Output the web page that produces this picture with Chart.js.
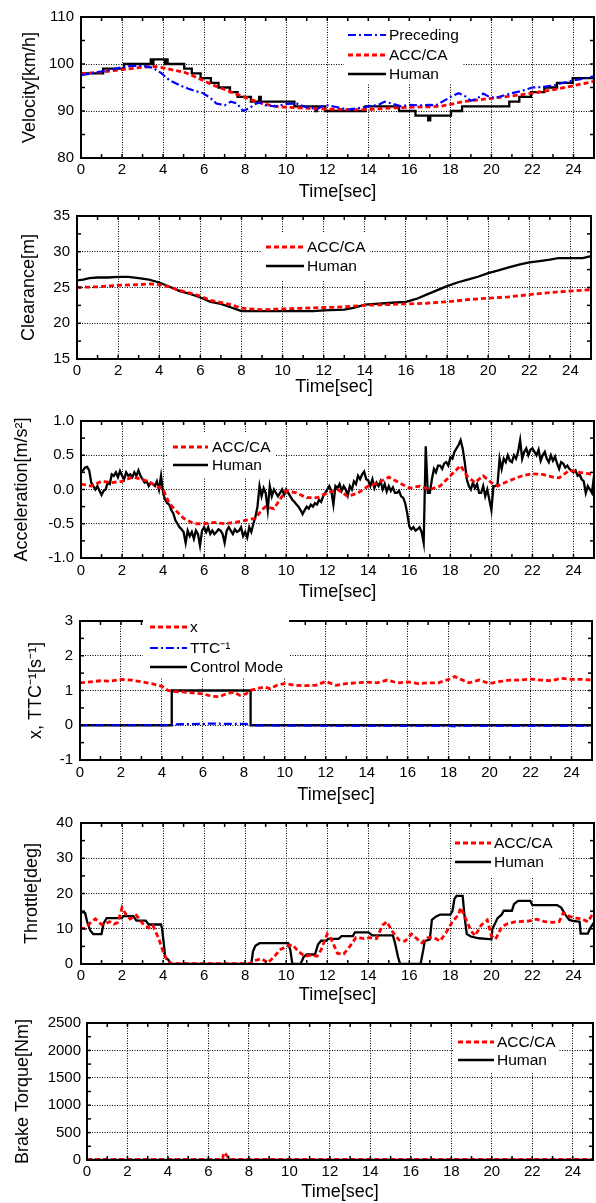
<!DOCTYPE html>
<html><head><meta charset="utf-8">
<script src="https://cdn.jsdelivr.net/npm/chart.js@4.4.1/dist/chart.umd.min.js"></script>
<style>
html,body{margin:0;padding:0;background:#fff;}
body{width:596px;height:1203px;position:relative;overflow:hidden;}
canvas{position:absolute;left:0;}
</style></head><body>
<script>
// ---------- shared axis ticks ----------
const timeTicks = [0,2,4,6,8,10,12,14,16,18,20,22,24];
const timeMinorTicks = [1,3,5,7,9,11,13,15,17,19,21,23];

// ---------- Panel 1: Velocity ----------
const velTicks = [80,90,100,110];
const velMinorTicks = [85,95,105];
const velPrecT = [0,0.5,1,1.5,2,2.5,3,3.5,3.9,4.3,4.8,5.2,5.6,5.9,6.3,6.6,7.0,7.3,7.6,7.9,8.2,8.5,8.7,9.0,9.5,10,10.5,11,11.5,11.9,12.5,13,13.5,14,14.5,14.8,15.2,15.6,16,16.5,17,17.3,17.7,18.1,18.4,18.7,19,19.3,19.6,19.9,20.2,20.6,21,21.5,22,22.5,23,23.5,24,24.5,25];
const velPrecV = [97.6,98.0,98.4,98.8,99.3,99.6,99.6,99.2,98.1,96.6,95.5,94.8,94.2,93.9,92.8,91.6,91.2,92.0,91.6,90.0,90.6,91.5,91.8,91.2,91.0,91.5,91.6,90.8,90.4,91.3,90.8,90.3,90.6,91.0,91.3,92.0,91.5,91.0,91.3,91.2,91.3,91.2,92.2,93.2,93.8,93.2,92.2,92.6,93.7,93.0,92.8,93.3,93.8,94.3,95.0,95.1,95.4,96.0,96.5,96.9,97.4];
const velAccT = [0,1,2,3,3.6,4,4.5,5,5.5,6,6.5,7,7.5,8,8.5,9,9.5,10,11,12,13,14,15,16,17,17.5,18,18.5,19,20,21,22,23,24,25];
const velAccV = [97.9,98.3,98.8,99.3,99.5,99.2,98.7,98.3,97.4,96.4,95.4,94.6,93.7,92.9,92.1,91.4,91.0,90.8,90.6,90.4,90.3,90.3,90.6,90.8,90.9,91.0,91.4,91.9,92.2,92.7,93.2,93.8,94.5,95.4,96.3];
const velHumT = [0,1.08,2.1,3.4,3.47,3.53,4.08,4.14,4.22,5.03,5.4,5.83,6.33,6.7,7.26,7.63,8.28,8.68,8.76,10.4,11.43,11.5,11.58,11.9,13.86,15.5,16.3,16.92,17.02,18.03,18.57,20.87,21.36,21.93,22.58,23.2,23.96,25];
const velHumV = [98,99,100,101,100,101,100,101,100,99,98,97,96,95,94,93,92,93,92,91,90,91,91,90,91,90,89,88,89,90,91,92,93,94,95,96,97,97];

// ---------- Panel 2: Clearance ----------
const clrTicks = [15,20,25,30,35];
const clrMinorTicks = [17.5,22.5,27.5,32.5];
const clrAccT = [0,1,2,3,3.5,4,4.5,5,5.5,6,6.5,7,7.5,8,9,10,11,12,13,14,15,16,17,18,19,20,21,22,23,24,25];
const clrAccV = [25.0,25.1,25.3,25.4,25.5,25.4,25.1,24.6,24.2,23.8,23.2,22.9,22.6,22.1,21.9,22.0,22.1,22.2,22.3,22.5,22.6,22.7,22.8,23.0,23.3,23.5,23.7,24.0,24.3,24.5,24.7];
const clrHumT = [0,0.3,0.6,1,1.5,2,2.5,3,3.5,4,4.5,5,5.5,6,6.5,7,7.5,8,8.5,9,10,11,11.5,12,13,13.5,14,14.5,15,15.5,16,16.5,17,17.5,18,18.5,19,19.5,20,20.5,21,21.5,22,22.5,23,23.4,24,24.6,25];
const clrHumV = [26.0,26.1,26.3,26.4,26.4,26.5,26.5,26.3,26.1,25.7,25.1,24.5,24.1,23.6,23.0,22.7,22.2,21.7,21.7,21.7,21.7,21.7,21.7,21.8,21.9,22.2,22.6,22.7,22.8,22.9,23.0,23.4,24.0,24.6,25.2,25.7,26.1,26.5,27.0,27.4,27.8,28.2,28.5,28.7,28.9,29.1,29.1,29.1,29.4];

// ---------- Panel 3: Acceleration ----------
const accTicks = [-1,-0.5,0,0.5,1];
const accTickLabels = ['-1.0','-0.5','0.0','0.5','1.0'];
const accMinorTicks = [-0.75,-0.25,0.25,0.75];
const accAccT = [0,0.5,1,1.5,2,2.5,3,3.5,4,4.3,4.6,5,5.5,6,6.5,7,7.5,8,8.5,8.8,9,9.4,9.8,10,10.5,11,11.5,12,12.5,13,13.5,14,14.5,15,15.5,16,16.5,17,17.5,18,18.5,18.8,19.2,19.6,20,20.3,20.8,21.5,22,22.5,23,23.3,23.8,24.3,25];
const accAccV = [0.08,0.05,0.12,0.10,0.12,0.18,0.15,0.08,0.0,-0.2,-0.3,-0.42,-0.5,-0.5,-0.48,-0.5,-0.48,-0.45,-0.42,-0.3,-0.25,-0.28,-0.1,-0.02,-0.05,-0.12,-0.12,-0.05,0.0,-0.1,-0.05,0.05,0.1,0.18,0.1,0.02,0.05,0.0,0.05,0.2,0.35,0.2,0.1,0.2,0.1,0.05,0.12,0.2,0.23,0.22,0.18,0.17,0.28,0.25,0.22];
const accHumDt = 0.1; // Human samples every 0.1 s from t = 0
const accHumV = [
 0.25,0.28,0.32,0.33,0.28,0.10,0.05,0.00,0.05,-0.02,
 -0.08,-0.02,0.00,0.10,0.08,0.22,0.20,0.25,0.18,0.27,
 0.20,0.15,0.25,0.20,0.22,0.18,0.25,0.20,0.28,0.20,
 0.15,0.10,0.12,0.05,0.10,0.08,0.05,0.12,0.00,0.20,
 -0.05,-0.15,-0.20,-0.22,-0.30,-0.35,-0.45,-0.50,-0.55,-0.58,
 -0.62,-0.78,-0.60,-0.68,-0.62,-0.72,-0.60,-0.65,-0.82,-0.60,
 -0.55,-0.62,-0.55,-0.65,-0.60,-0.65,-0.62,-0.58,-0.60,-0.65,
 -0.78,-0.60,-0.55,-0.60,-0.65,-0.58,-0.62,-0.60,-0.55,-0.68,
 -0.62,-0.70,-0.55,-0.62,-0.50,-0.40,-0.25,0.05,-0.10,0.02,
 -0.05,-0.30,0.05,-0.10,0.00,-0.05,-0.10,-0.05,0.00,-0.08,
 0.00,-0.05,-0.10,-0.15,-0.18,-0.22,-0.25,-0.30,-0.36,-0.30,
 -0.25,-0.28,-0.22,-0.25,-0.20,-0.22,-0.15,-0.18,-0.10,-0.05,
 0.00,0.05,-0.02,-0.22,0.05,0.02,0.08,-0.02,0.05,0.00,
 -0.09,0.05,0.00,0.12,0.08,0.20,0.15,0.22,0.26,0.15,
 0.13,0.05,0.15,0.02,0.10,0.05,0.12,0.00,0.08,-0.03,
 0.05,-0.02,0.03,-0.05,-0.05,-0.02,-0.10,-0.12,-0.20,-0.35,
 -0.54,-0.58,-0.55,-0.60,-0.58,-0.55,-0.62,-0.78,0.63,-0.05,
 -0.05,0.15,0.30,0.25,0.35,0.35,0.30,0.38,0.40,0.35,
 0.47,0.45,0.55,0.60,0.65,0.72,0.60,0.40,0.15,0.05,
 0.00,0.10,0.02,0.08,-0.05,-0.05,0.05,-0.10,0.00,-0.15,
 -0.30,0.05,0.05,0.08,0.45,0.30,0.45,0.40,0.50,0.42,
 0.40,0.50,0.45,0.55,0.72,0.45,0.55,0.60,0.50,0.58,
 0.60,0.55,0.50,0.58,0.42,0.50,0.55,0.45,0.40,0.50,
 0.42,0.48,0.38,0.30,0.40,0.38,0.32,0.35,0.30,0.28,
 0.25,0.28,0.20,0.22,0.15,0.12,-0.05,0.05,0.00,-0.05,
 0.20];

// ---------- Panel 4: x, TTC^-1, Control Mode ----------
const modeTicks = [-1,0,1,2,3];
const modeMinorTicks = [-0.5,0.5,1.5,2.5];
const xT = [0,0.5,1,1.5,2,2.5,3,3.5,4,4.3,4.6,5,5.5,6,6.5,6.8,7.2,7.5,7.8,8.1,8.3,8.6,9,9.3,9.6,10,10.5,11,11.5,12,12.5,13,13.5,14,14.5,15,15.5,16,16.5,17,17.5,18,18.3,18.6,19,19.5,20,20.5,21,21.5,22,22.5,23,23.5,24,24.5,25];
const xV = [1.22,1.25,1.28,1.27,1.32,1.3,1.25,1.2,1.12,1.0,0.97,0.96,0.93,0.9,0.83,0.82,0.92,0.95,0.86,0.9,1.0,1.05,1.1,1.05,1.15,1.2,1.15,1.14,1.15,1.26,1.15,1.2,1.22,1.24,1.22,1.3,1.22,1.25,1.2,1.22,1.22,1.32,1.4,1.32,1.22,1.3,1.2,1.26,1.3,1.3,1.33,1.3,1.28,1.35,1.32,1.32,1.3];
const ttcT = [0,4.4,4.5,5,6,6.6,7,8,8.3,8.4,10,14,18,18.3,18.5,22,25];
const ttcV = [0,0,0.02,0.03,0.04,0.05,0.04,0.04,0.03,0,-0.01,-0.02,-0.02,-0.03,-0.02,-0.02,-0.02];
const modeT = [0,4.48,8.33,25];
const modeV = [0,1,0,0];

// ---------- Panel 5: Throttle ----------
const thrTicks = [0,10,20,30,40];
const thrMinorTicks = [5,15,25,35];
const thrAccT = [0,0.2,0.5,0.7,1.0,1.2,1.4,1.6,1.8,2.0,2.2,2.4,2.7,3.0,3.3,3.5,3.8,4.0,4.2,4.4,8.2,8.5,8.8,9.1,9.4,9.7,10.0,10.3,10.6,10.9,11.2,11.5,11.7,12.0,12.2,12.5,12.8,13.1,13.4,13.8,14.1,14.4,14.7,14.9,15.2,15.5,15.8,16.1,16.3,16.6,16.9,17.2,17.5,17.8,18.1,18.4,18.5,18.7,19.0,19.2,19.5,19.8,20.0,20.2,20.5,20.8,21.2,21.8,22.2,22.6,23.0,23.3,23.5,23.8,24.1,24.4,24.7,25];
const thrAccV = [10.2,10,12,12.8,11.2,11.5,12,11.3,11.8,16,14,12.8,13.8,11.5,10.2,11,7,3.5,1,0.1,0.1,1,1.5,0.3,2,4,5,5.5,3.5,2.2,2.5,2.2,4,8.5,7,3,2.8,5,7.5,7.2,7.5,7.2,11,12,9,6.8,6.5,8.5,7.5,6,7.5,7.5,6.5,9,12,14,16,13.5,9.5,8,11,12.5,8,7,10.5,11.5,12,12.2,12.7,12,11.8,12,14.5,13.5,13,12.8,12,14.8];
const thrHumT = [0,0.2,0.3,0.45,0.6,1.0,1.1,1.25,2.0,2.05,2.55,2.7,3.15,3.3,3.9,3.95,4.05,4.1,4.25,4.4,8.3,8.38,8.5,8.7,10.1,10.2,10.3,10.7,10.85,11.0,11.4,11.55,11.7,11.95,12.05,12.55,12.7,13.25,13.35,14.0,14.2,15.2,15.3,15.45,15.55,16.55,16.68,16.75,17.0,17.1,17.3,17.5,18.0,18.1,18.2,18.3,18.6,18.7,18.8,19.0,19.4,20.0,20.05,20.3,20.5,20.6,21.0,21.1,21.3,21.9,22.0,23.2,23.4,23.6,23.8,24.0,24.3,24.35,24.7,24.8,25];
const thrHumV = [14.8,14.5,12,9.5,8.5,8.5,11.5,13,13,13.6,13.6,12.3,12.3,11.2,11.2,10,5,2,1.2,0,0,3.5,5.2,5.9,5.9,4,0,0,2,2.7,2.7,5.5,6.6,6.6,7.1,7.1,7.9,7.9,9.0,9.0,8.1,8.1,6,2,0,0,4,6.5,7,12.5,13.5,14,14,15,18.5,19.3,19.3,13,8.5,7.8,7.3,7.0,10,13,14,15.1,15.1,17,17.9,17.9,16.7,16.7,16,14,12.5,12.2,12,8.6,8.6,10,11.8];

// ---------- Panel 6: Brake Torque ----------
const brkTicks = [0,500,1000,1500,2000,2500];
const brkMinorTicks = [250,750,1250,1750,2250];
const brkAccT = [0,6.7,6.75,6.85,6.95,7.05,25];
const brkAccV = [10,10,130,110,60,10,10];
const brkHumT = [0,25];
const brkHumV = [0,0];

// ---------- helpers ----------
const RED = '#ff0000', BLUE = '#0000ff', BLACK = '#000000';
const FONT = '"Liberation Sans", Arial, Helvetica, sans-serif';
Chart.defaults.font.family = FONT;
Chart.defaults.color = '#000';

function pts(ts, vs){ return ts.map((t,i)=>({x:t, y:vs[i]})); }
function ptsDt(dt, vs){ return vs.map((v,i)=>({x:+(i*dt).toFixed(3), y:v})); }
const dsRed  = (label, data) => ({label, data, borderColor:RED, borderWidth:2.8, borderDash:[5,3], pointRadius:0, tension:0, fill:false});
const dsBlue = (label, data) => ({label, data, borderColor:BLUE, borderWidth:2.2, borderDash:[8,3,2,3], pointRadius:0, tension:0, fill:false});
const dsBlack= (label, data, stepped) => ({label, data, borderColor:BLACK, borderWidth:2.3, pointRadius:0, tension:0, fill:false, stepped: stepped||false});

const decor = {
  id:'decor',
  afterDraw(chart, args, o){
    const ctx = chart.ctx, ca = chart.chartArea, xs = chart.scales.x, ys = chart.scales.y;
    ctx.save();
    ctx.strokeStyle = '#000'; ctx.lineWidth = 1.5; ctx.setLineDash([]);
    const seg=(a,b,c,d)=>{ctx.beginPath();ctx.moveTo(a,b);ctx.lineTo(c,d);ctx.stroke();};
    const tickLen = 4;
    [...o.xMajor, ...o.xMinor].forEach(v=>{const p=xs.getPixelForValue(v); seg(p,ca.bottom,p,ca.bottom-tickLen); seg(p,ca.top,p,ca.top+tickLen);});
    [...o.yMajor, ...o.yMinor].forEach(v=>{const p=ys.getPixelForValue(v); seg(ca.left,p,ca.left+tickLen,p); seg(ca.right,p,ca.right-tickLen,p);});
    ctx.lineWidth = 2;
    ctx.strokeRect(ca.left, ca.top, ca.right-ca.left, ca.bottom-ca.top);
    // legend
    const L = o.legend, off = o.canvasTop;
    ctx.fillStyle = '#fff';
    ctx.fillRect(L.box[0], L.box[1]-off, L.box[2]-L.box[0], L.box[3]-L.box[1]);
    ctx.font = '15.5px ' + FONT; ctx.textBaseline = 'middle'; ctx.textAlign = 'left';
    chart.data.datasets.forEach((d,i)=>{
      const y = L.rows[i]-off;
      ctx.strokeStyle = d.borderColor; ctx.lineWidth = d.borderWidth; ctx.setLineDash(d.borderDash||[]);
      seg(L.line[0], y, L.line[1], y);
      ctx.setLineDash([]);
      ctx.fillStyle = '#000';
      ctx.fillText(d.label, L.textX, y+0.5);
    });
    ctx.restore();
  }
};

function makePanel(p){
  const Ti = p.top - 14;
  const Hi = Math.round(p.xTitleY + 10.8 - Ti);
  const Hx = Hi - (p.bottom - Ti);
  const c = document.createElement('canvas');
  c.width = 596; c.height = Hi;
  c.style.top = Ti + 'px'; c.style.width='596px'; c.style.height = Hi+'px';
  document.body.appendChild(c);
  new Chart(c, {
    type:'line',
    data:{datasets:p.datasets},
    options:{
      responsive:false, animation:false, devicePixelRatio:1,
      layout:{padding:{top:p.top-Ti, left:0, right:596-p.right, bottom:0}},
      plugins:{legend:{display:false}, tooltip:{enabled:false},
        decor:{xMajor:timeTicks, xMinor:timeMinorTicks, yMajor:p.yTicks, yMinor:p.yMinor, legend:p.legend, canvasTop:Ti}},
      scales:{
        x:{type:'linear', min:0, max:25,
          afterBuildTicks:s=>{s.ticks = timeTicks.map(v=>({value:v}));},
          afterFit:s=>{s.height = Hx;},
          ticks:{font:{size:15}, color:'#000', padding:p.xPad, maxRotation:0, autoSkip:false},
          grid:{color:'#000', lineWidth:1, drawTicks:false},
          border:{display:false, dash:[1,1.5]},
          title:{display:true, text:'Time[sec]', font:{size:18}, color:'#000', padding:0}},
        y:{type:'linear', min:p.yTicks[0], max:p.yTicks[p.yTicks.length-1],
          afterBuildTicks:s=>{s.ticks = p.yTicks.map(v=>({value:v}));},
          afterFit:s=>{s.width = p.left;},
          ticks:{font:{size:15}, color:'#000', padding:p.yPad, autoSkip:false,
            callback:(v,i)=> p.yLabels ? p.yLabels[i] : String(v)},
          grid:{color:'#000', lineWidth:1, drawTicks:false},
          border:{display:false, dash:[1,1.5]},
          title:{display:true, text:p.yTitle, font:{size:18}, color:'#000', padding:{top:p.yTitleX-10.8, bottom:0}}}
      }
    },
    plugins:[decor]
  });
}

makePanel({top:15,bottom:158,left:81,right:594,xTitleY:192,yTitleX:30,xPad:3,yPad:7,
  yTicks:velTicks, yMinor:velMinorTicks, yTitle:'Velocity[km/h]',
  datasets:[dsBlue('Preceding',pts(velPrecT,velPrecV)), dsRed('ACC/CA',pts(velAccT,velAccV)), dsBlack('Human',pts(velHumT,velHumV),'before')],
  legend:{box:[344,22,462,83], line:[348,386], textX:389, rows:[35,55,74]}});

makePanel({top:214,bottom:359,left:77,right:591,xTitleY:387,yTitleX:29,xPad:3,yPad:7,
  yTicks:clrTicks, yMinor:clrMinorTicks, yTitle:'Clearance[m]',
  datasets:[dsRed('ACC/CA',pts(clrAccT,clrAccV)), dsBlack('Human',pts(clrHumT,clrHumV))],
  legend:{box:[262,233,370,280], line:[266,304], textX:307, rows:[247,266]}});

makePanel({top:419,bottom:558,left:81,right:594,xTitleY:592,yTitleX:22,xPad:4,yPad:7,
  yTicks:accTicks, yLabels:accTickLabels, yMinor:accMinorTicks, yTitle:'Acceleration[m/s²]',
  datasets:[dsRed('ACC/CA',pts(accAccT,accAccV)), dsBlack('Human',ptsDt(accHumDt,accHumV))],
  legend:{box:[168,433,275,478], line:[173,208], textX:212, rows:[447,465]}});

makePanel({top:619,bottom:760,left:80,right:592,xTitleY:795,yTitleX:36,xPad:4,yPad:7,
  yTicks:modeTicks, yMinor:modeMinorTicks, yTitle:'x, TTC⁻¹[s⁻¹]',
  datasets:[dsRed('x',pts(xT,xV)), dsBlue('TTC⁻¹',pts(ttcT,ttcV)), dsBlack('Control Mode',pts(modeT,modeV),'before')],
  legend:{box:[143,612,289,677], line:[150,187], textX:190, rows:[627,648,667]}});

makePanel({top:820,bottom:964,left:81,right:594,xTitleY:995,yTitleX:32,xPad:3,yPad:8,
  yTicks:thrTicks, yMinor:thrMinorTicks, yTitle:'Throttle[deg]',
  datasets:[dsRed('ACC/CA',pts(thrAccT,thrAccV)), dsBlack('Human',pts(thrHumT,thrHumV))],
  legend:{box:[452,828,559,878], line:[455,491], textX:494, rows:[843,862]}});

makePanel({top:1022,bottom:1160,left:87,right:593,xTitleY:1192,yTitleX:23,xPad:3,yPad:6,
  yTicks:brkTicks, yMinor:brkMinorTicks, yTitle:'Brake Torque[Nm]',
  datasets:[dsRed('ACC/CA',pts(brkAccT,brkAccV)), dsBlack('Human',pts(brkHumT,brkHumV))],
  legend:{box:[454,1030,559,1072], line:[458,494], textX:497, rows:[1042,1060]}});
</script>
</body></html>
